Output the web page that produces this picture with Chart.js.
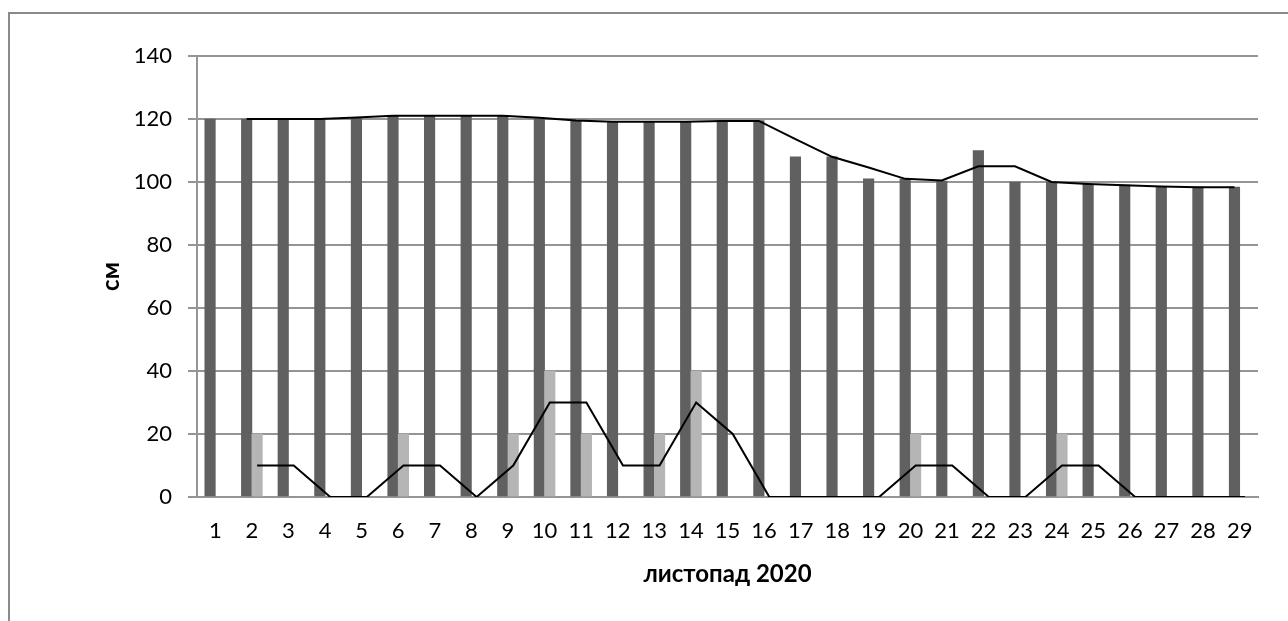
<!DOCTYPE html>
<html>
<head>
<meta charset="utf-8">
<script src="https://cdn.jsdelivr.net/npm/chart.js@4/dist/chart.umd.min.js"></script>
<style>
  html, body { margin: 0; padding: 0; background: #fff; overflow: hidden; }
  #wrap { width: 1288px; height: 621px; position: relative; }
</style>
</head>
<body>
<div id="wrap"><canvas id="c" width="1288" height="621"></canvas></div>
<script>
// Days of November 2020
const days = ['1','2','3','4','5','6','7','8','9','10','11','12','13','14','15',
              '16','17','18','19','20','21','22','23','24','25','26','27','28','29'];

// Dark bars (cm)
const barDark = [120, 120, 120, 120, 120.4, 121, 121, 121, 121, 120,
                 119.4, 119.3, 119.3, 119.3, 119.5, 119.5, 108, 108, 101, 101,
                 100.3, 110, 100, 100, 99.3, 99, 98.5, 98.4, 98.4];

// Light bars (cm)
const barLight = [null, 20, null, null, null, 20, null, null, 20, 40,
                  20, null, 20, 40, null, null, null, null, null, 20,
                  null, null, null, 20, null, null, null, null, null];

// Upper line, drawn over the dark bars (cm)
const lineUpper = [null, 120, 120, 120, 120.5, 121, 121, 121, 121, 120.4,
                   119.5, 119.1, 119.1, 119.1, 119.4, 119.4, 113.6, 108, 104.6, 101,
                   100.5, 105, 105, 100, 99.4, 99, 98.6, 98.3, 98.3];

// Lower line, drawn over the light bars (cm)
const lineLower = [null, 10, 10, 0, 0, 10, 10, 0, 10, 30,
                   30, 10, 10, 30, 20, 0, 0, 0, 0, 10,
                   10, 0, 0, 10, 10, 0, 0, 0, 0];

// Y axis ticks
const yMin = 0, yMax = 140, yStep = 20;

// Each day holds two side-by-side bars with a 150% gap around them
const CAT_PCT = 2 / 3.5;
const BAR_SHIFT = CAT_PCT / 4;   // offset of each bar centre from the day centre, in days
const BAR_WIDTH = 10.5;          // px

const FONT = "Lato, 'Noto Sans', 'DejaVu Sans', sans-serif";
const GRID = '#959595';

// Place a series on the day axis, shifted to its own bar slot
function toPoints(values, shift) {
  return values.map((v, i) => ({ x: i + 1 + shift, y: v }));
}

// Outer frame of the chart area
const framePlugin = {
  id: 'frame',
  beforeDraw(chart) {
    const ctx = chart.ctx;
    ctx.save();
    ctx.fillStyle = '#fff';
    ctx.fillRect(0, 0, chart.width, chart.height);
    ctx.strokeStyle = '#8a8a8a';
    ctx.lineWidth = 2;
    ctx.strokeRect(9, 13, 2000, 2000);
    ctx.restore();
  }
};

const barCommon = { xAxisID: 'xl', grouped: false, barThickness: BAR_WIDTH, borderWidth: 0 };

new Chart(document.getElementById('c'), {
  type: 'bar',
  data: {
    labels: days,
    datasets: [
      Object.assign({ type: 'bar', data: toPoints(barDark, -BAR_SHIFT), backgroundColor: '#606060', order: 3 }, barCommon),
      Object.assign({ type: 'bar', data: toPoints(barLight, BAR_SHIFT), backgroundColor: '#b5b5b5', order: 2 }, barCommon),
      {
        type: 'line', data: toPoints(lineUpper, -BAR_SHIFT), xAxisID: 'xl',
        borderColor: '#000', borderWidth: 2, pointRadius: 0, tension: 0, order: 1
      },
      {
        type: 'line', data: toPoints(lineLower, BAR_SHIFT), xAxisID: 'xl',
        borderColor: '#000', borderWidth: 2, pointRadius: 0, tension: 0, order: 0
      }
    ]
  },
  options: {
    responsive: false,
    animation: false,
    layout: { padding: { left: 0, top: 56, right: 30, bottom: 0 } },
    plugins: { legend: { display: false }, tooltip: { enabled: false } },
    scales: {
      x: {
        type: 'category',
        offset: true,
        grid: { display: false, drawTicks: false },
        border: { display: true, color: GRID, width: 2 },
        ticks: { color: '#000', font: { family: FONT, size: 22 }, padding: 21, maxRotation: 0, autoSkip: false },
        title: {
          display: true, text: 'листопад 2020', color: '#000',
          font: { family: FONT, size: 24, weight: 'bold' },
          padding: { top: 0, bottom: 32 }
        },
        afterFit(scale) { scale.height = 124; }
      },
      xl: {
        type: 'linear', display: false, offset: false, min: 0.5, max: 29.5,
        grid: { offset: false }
      },
      y: {
        min: yMin, max: yMax,
        ticks: { stepSize: yStep, color: '#000', font: { family: FONT, size: 22 }, padding: 16 },
        grid: { color: GRID, lineWidth: 2, drawTicks: true, tickLength: 9, tickColor: GRID },
        border: { display: true, color: GRID, width: 2 },
        title: {
          display: true, text: 'см', color: '#000',
          font: { family: FONT, size: 24, weight: 'bold' },
          padding: { top: 97, bottom: 0 }
        },
        afterFit(scale) { scale.width = 197; }
      }
    }
  },
  plugins: [framePlugin]
});
</script>
</body>
</html>
